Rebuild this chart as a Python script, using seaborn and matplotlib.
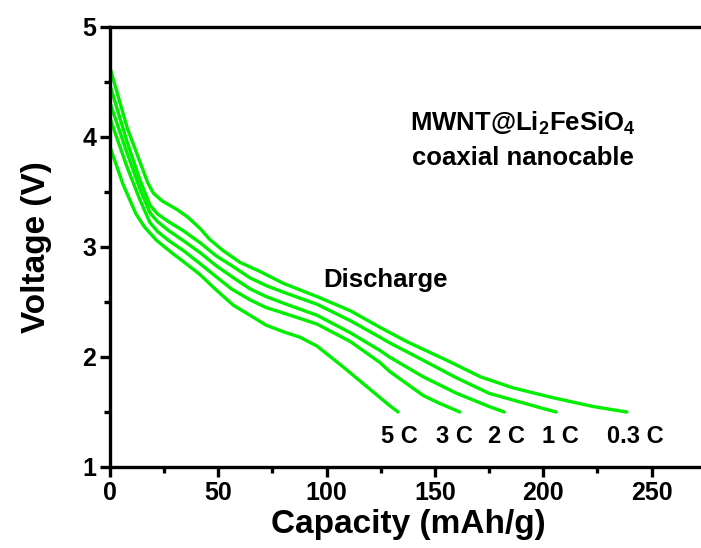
import numpy as np
import pandas as pd
import matplotlib
matplotlib.use("Agg")
import matplotlib.pyplot as plt
import seaborn as sns
from matplotlib.ticker import MultipleLocator

sns.set_style("white")
plt.rcParams['font.family'] = ['Liberation Sans', 'DejaVu Sans']
plt.rcParams['font.weight'] = 'bold'
plt.rcParams['text.color'] = 'black'
plt.rcParams['axes.labelcolor'] = 'black'
plt.rcParams['xtick.color'] = 'black'
plt.rcParams['ytick.color'] = 'black'

rates = ["0.3 C", "1 C", "2 C", "3 C", "5 C"]

cap_03 = [0, 8, 17.5, 20, 24, 31, 36, 41.5, 46, 52, 60, 69, 80, 95.5, 111, 124.6, 137, 155.5, 171, 186, 204.5, 223, 238.6]
v_03 = [4.63, 4.08, 3.58, 3.49, 3.42, 3.34, 3.27, 3.17, 3.07, 2.97, 2.86, 2.78, 2.67, 2.55, 2.42, 2.27, 2.14, 1.97, 1.82, 1.72, 1.63, 1.55, 1.50]

cap_1 = [0, 8, 14, 18.5, 22, 27, 33.7, 41.5, 49, 57, 64.6, 72, 80, 95.5, 111, 124.6, 129, 144.6, 160, 175, 198.5, 206]
v_1 = [4.47, 3.95, 3.60, 3.38, 3.30, 3.23, 3.15, 3.04, 2.92, 2.82, 2.72, 2.65, 2.59, 2.48, 2.33, 2.18, 2.13, 1.97, 1.81, 1.67, 1.54, 1.50]

cap_2 = [0, 8, 14, 18.5, 22, 27, 33.7, 41.5, 49, 57, 64.6, 72, 80, 95.5, 111, 124.6, 129, 144.6, 160, 175, 182]
v_2 = [4.31, 3.85, 3.52, 3.31, 3.23, 3.15, 3.06, 2.95, 2.83, 2.72, 2.62, 2.55, 2.49, 2.38, 2.22, 2.06, 2.00, 1.82, 1.67, 1.55, 1.50]

cap_3 = [0, 8, 14, 18.5, 22, 27, 33.7, 41.5, 49, 56, 64.6, 72, 80, 95.5, 111, 124.6, 129, 144.6, 152, 161.5]
v_3 = [4.17, 3.72, 3.42, 3.22, 3.14, 3.06, 2.97, 2.85, 2.73, 2.62, 2.52, 2.45, 2.40, 2.30, 2.14, 1.95, 1.87, 1.65, 1.58, 1.50]

cap_5 = [0, 6, 12, 16, 21.5, 29, 33.7, 41.5, 49, 57, 64.6, 72, 80, 87.7, 95.5, 107, 118.6, 129, 133]
v_5 = [3.91, 3.57, 3.30, 3.18, 3.06, 2.94, 2.87, 2.75, 2.61, 2.47, 2.38, 2.29, 2.23, 2.18, 2.10, 1.92, 1.73, 1.56, 1.50]

label_x = [242.3, 207.7, 182.8, 158.8, 133.4]

caps = [cap_03, cap_1, cap_2, cap_3, cap_5]
volts = [v_03, v_1, v_2, v_3, v_5]

frames = []
for r, c, v in zip(rates, caps, volts):
    frames.append(pd.DataFrame({"Capacity": c, "Voltage": v, "Rate": r}))
df = pd.concat(frames, ignore_index=True)

fig = plt.figure(figsize=(7.01, 5.48), dpi=100)
ax = fig.add_axes([110/701, 1-467/548, 595.7/701, 440/548])

green = "#00EE00"
sns.lineplot(data=df, x="Capacity", y="Voltage", hue="Rate", units="Rate",
             estimator=None, sort=False, palette=[green]*5, linewidth=2.4,
             legend=False, ax=ax)

ax.set_xlim(0, 275)
ax.set_ylim(1, 5)
ax.xaxis.set_major_locator(MultipleLocator(50))
ax.xaxis.set_minor_locator(MultipleLocator(25))
ax.yaxis.set_major_locator(MultipleLocator(1))
ax.yaxis.set_minor_locator(MultipleLocator(0.5))

for s in ["left", "bottom", "top"]:
    ax.spines[s].set_linewidth(2.4)
    ax.spines[s].set_color("black")
ax.spines["right"].set_visible(False)

ax.tick_params(axis="both", which="major", direction="out", length=7, width=2.4,
               labelsize=18, pad=3, colors="black", bottom=True, left=True)
ax.tick_params(axis="both", which="minor", direction="out", length=4.5, width=2.4,
               bottom=True, left=True)
for lab in ax.get_xticklabels() + ax.get_yticklabels():
    lab.set_fontweight("bold")

ax.set_xlabel("Capacity (mAh/g)", fontsize=24, fontweight="bold", labelpad=3)
ax.set_ylabel("Voltage (V)", fontsize=24, fontweight="bold", labelpad=22)

for r, lx in zip(rates, label_x):
    ax.text(lx, 1.22, r, fontsize=17, fontweight="bold", ha="center", va="baseline")

ax.text(127, 2.64, "Discharge", fontsize=18.5, fontweight="bold", ha="center", va="baseline")
ax.text(190.8, 4.055, r"MWNT@Li$_\mathregular{2}$FeSiO$_\mathregular{4}$", fontsize=18.5,
        fontweight="bold", ha="center", va="baseline")
ax.text(190.6, 3.745, "coaxial nanocable", fontsize=18.5, fontweight="bold",
        ha="center", va="baseline")

fig.savefig("out.png", dpi=100)
